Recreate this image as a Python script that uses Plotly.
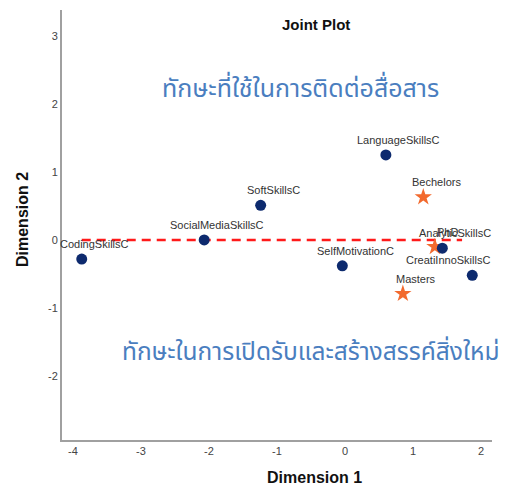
import plotly.graph_objects as go

# ---- data ----
skill_names = ["CodingSkillsC", "SocialMediaSkillsC", "SoftSkillsC", "LanguageSkillsC",
               "SelfMotivationC", "AnalyticSkillsC", "CreatiInnoSkillsC"]
skill_dim1 = [-3.87, -2.07, -1.24, 0.60, -0.04, 1.43, 1.87]
skill_dim2 = [-0.28, 0.00, 0.51, 1.25, -0.38, -0.12, -0.52]

degree_names = ["Bechelors", "PhD", "Masters"]
degree_dim1 = [1.15, 1.32, 0.85]
degree_dim2 = [0.63, -0.10, -0.79]

x_ticks = [-4, -3, -2, -1, 0, 1, 2]
x_tick_labels = ["-4", "-3", "-2", "-1", "0", "1", "2"]
y_ticks = [-2, -1, 0, 1, 2, 3]
y_tick_labels = ["-2", "-1", "0", "1", "2", "3"]

ref_line_x = [-3.87, 1.72]
ref_line_y = [0, 0]

thai_top = "ทักษะที่ใช้ในการติดต่อสื่อสาร"
thai_bottom = "ทักษะในการเปิดรับและสร้างสรรค์สิ่งใหม่"

# ---- styles ----
NAVY = "#0d2a6e"
ORANGE = "#f26a2e"
SANS = "Liberation Sans, Arial, sans-serif"
LABEL_FONT = dict(family=SANS, size=11, color="#333333")
THAI_FAMILY = "Tahoma, Noto Sans Thai, Noto Sans, sans-serif"
label_shift = {"CreatiInnoSkillsC": (-24, 15)}
default_shift = (13, 15)

W, H = 505, 488
L, R, T, B = 62, 13, 10, 48
pw, ph = W - L - R, H - T - B


def px_to_paper(px, py):
    return (px - L) / pw, (H - B - py) / ph


fig = go.Figure()

fig.add_trace(go.Scatter(x=ref_line_x, y=ref_line_y, mode="lines",
                         line=dict(color="#ff1a1a", width=2.5, dash="9px,6px"),
                         hoverinfo="skip", showlegend=False))

fig.add_trace(go.Scatter(x=degree_dim1, y=degree_dim2, mode="markers",
                         marker=dict(color=ORANGE, size=13, symbol="star"),
                         showlegend=False))
fig.add_trace(go.Scatter(x=skill_dim1, y=skill_dim2, mode="markers",
                         marker=dict(color=NAVY, size=11, symbol="circle"),
                         showlegend=False))

annotations = []
for names, xs, ys in [(skill_names, skill_dim1, skill_dim2), (degree_names, degree_dim1, degree_dim2)]:
    for n, x, y in zip(names, xs, ys):
        dx, dy = label_shift.get(n, default_shift)
        annotations.append(dict(x=x, y=y, text=n, showarrow=False, xshift=dx, yshift=dy,
                                font=LABEL_FONT, xanchor="center", yanchor="middle"))


def paper_text(px, py, text, font, **kw):
    x, y = px_to_paper(px, py)
    return dict(x=x, y=y, xref="paper", yref="paper", text=text, showarrow=False,
                font=font, xanchor="center", yanchor="middle", **kw)


annotations += [
    paper_text(300, 89, thai_top, dict(family=THAI_FAMILY, size=25, color="#4a7ebf")),
    paper_text(310, 352, thai_bottom, dict(family=THAI_FAMILY, size=24.5, color="#4a7ebf")),
    paper_text(316, 24, "<b>Joint Plot</b>", dict(family=SANS, size=15, color="#111111")),
    paper_text(314, 477, "<b>Dimension 1</b>", dict(family=SANS, size=16, color="#111111")),
    paper_text(22, 220, "<b>Dimension 2</b>", dict(family=SANS, size=16, color="#111111"),
               textangle=-90),
]

fig.update_layout(
    width=W, height=H,
    margin=dict(l=L, r=R, t=T, b=B, autoexpand=False),
    paper_bgcolor="white", plot_bgcolor="white",
    annotations=annotations,
    xaxis=dict(range=[-4.16, 2.16], tickvals=x_ticks, ticktext=x_tick_labels,
               showgrid=False, zeroline=False,
               showline=True, linecolor="#a0a0a0", linewidth=2, ticks="",
               tickfont=dict(family=SANS, size=11, color="#444444")),
    yaxis=dict(range=[-2.94, 3.38], tickvals=y_ticks, ticktext=y_tick_labels,
               showgrid=False, zeroline=False,
               showline=True, linecolor="#a0a0a0", linewidth=2, ticks="",
               tickfont=dict(family=SANS, size=11, color="#444444")),
)

fig.write_html("out.html", config={"displayModeBar": False},
               post_script="document.body.style.margin='0';document.body.style.overflow='hidden';")
